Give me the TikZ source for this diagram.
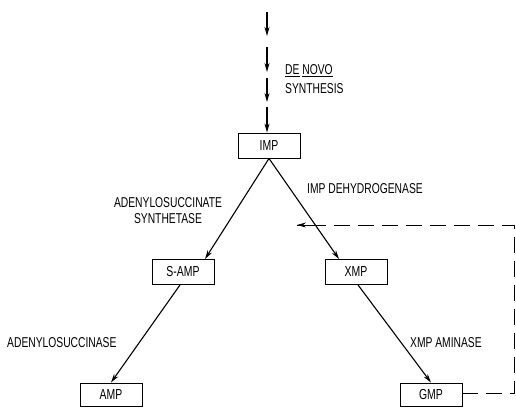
\documentclass[tikz,border=0pt]{standalone}
\usepackage{fontspec}
\setmainfont[FakeStretch=0.72]{Liberation Sans}
\usetikzlibrary{arrows.meta}
\begin{document}
\begin{tikzpicture}[x=1pt,y=-1pt,
  box/.style={draw,line width=0.9pt,minimum width=62pt,minimum height=25pt,inner sep=0pt,font=\fontsize{14.5}{16}\selectfont},
  lbl/.style={font=\fontsize{14.3}{16}\selectfont,inner sep=0pt,align=center},
  arr/.style={line width=1.1pt,-{Stealth[length=9pt,width=5pt]}},
  fb/.style={line width=1pt,dash pattern=on 16pt off 8pt}]
\fill[white] (0,0) rectangle (516,410);
\useasboundingbox (0,0) rectangle (516,410);
\node[box] (imp) at (269,145.5) {IMP};
\node[box] (samp) at (183,272) {S-AMP};
\node[box] (xmp) at (356,272) {XMP};
\node[box,minimum height=23pt] (amp) at (111,394.5) {AMP};
\node[box,minimum height=23pt] (gmp) at (431,394.5) {GMP};
% de novo dashed arrows
\coordinate (d0) at (267,12);
\coordinate (d1) at (267,36);
\coordinate (d2) at (267,47);
\coordinate (d3) at (267,72);
\coordinate (d4) at (267,78);
\coordinate (d5) at (267,102);
\coordinate (d6) at (267,107);
\draw[arr] (d0) -- (d1);
\draw[arr] (d2) -- (d3);
\draw[arr] (d4) -- (d5);
\draw[arr] (d6) -- (imp.north -| d6);
\node[lbl,anchor=west] (dn) at (285,71) {\underline{DE} \underline{NOVO}};
\node[lbl,anchor=west] (syn) at (285,89) {SYNTHESIS};
% main arrows
\draw[arr] (imp.south) -- ([xshift=22pt]samp.north);
\draw[arr] (imp.south) -- ([xshift=-17pt]xmp.north);
\draw[arr] ([xshift=-3pt]samp.south) -- (amp.north);
\draw[arr] ([xshift=2pt]xmp.south) -- (gmp.north);
% labels
\node[lbl] (l1) at (168,211) {ADENYLOSUCCINATE\\SYNTHETASE};
\node[lbl,anchor=west] (l2) at (307,189) {IMP DEHYDROGENASE};
\node[lbl,anchor=west] (l3) at (7,343) {ADENYLOSUCCINASE};
\node[lbl,anchor=west] (l4) at (410,343) {XMP AMINASE};
% feedback
\coordinate (c1) at (514,393);
\coordinate (c2) at (514,225);
\coordinate (c3) at (297,225);
\draw[fb] (gmp.east |- c1) -- (c1) -- (c2) -- (c3);
\draw[line width=1pt,-{Stealth[length=9pt,width=5pt]}] ([xshift=14pt]c3) -- (c3);
\end{tikzpicture}
\end{document}
